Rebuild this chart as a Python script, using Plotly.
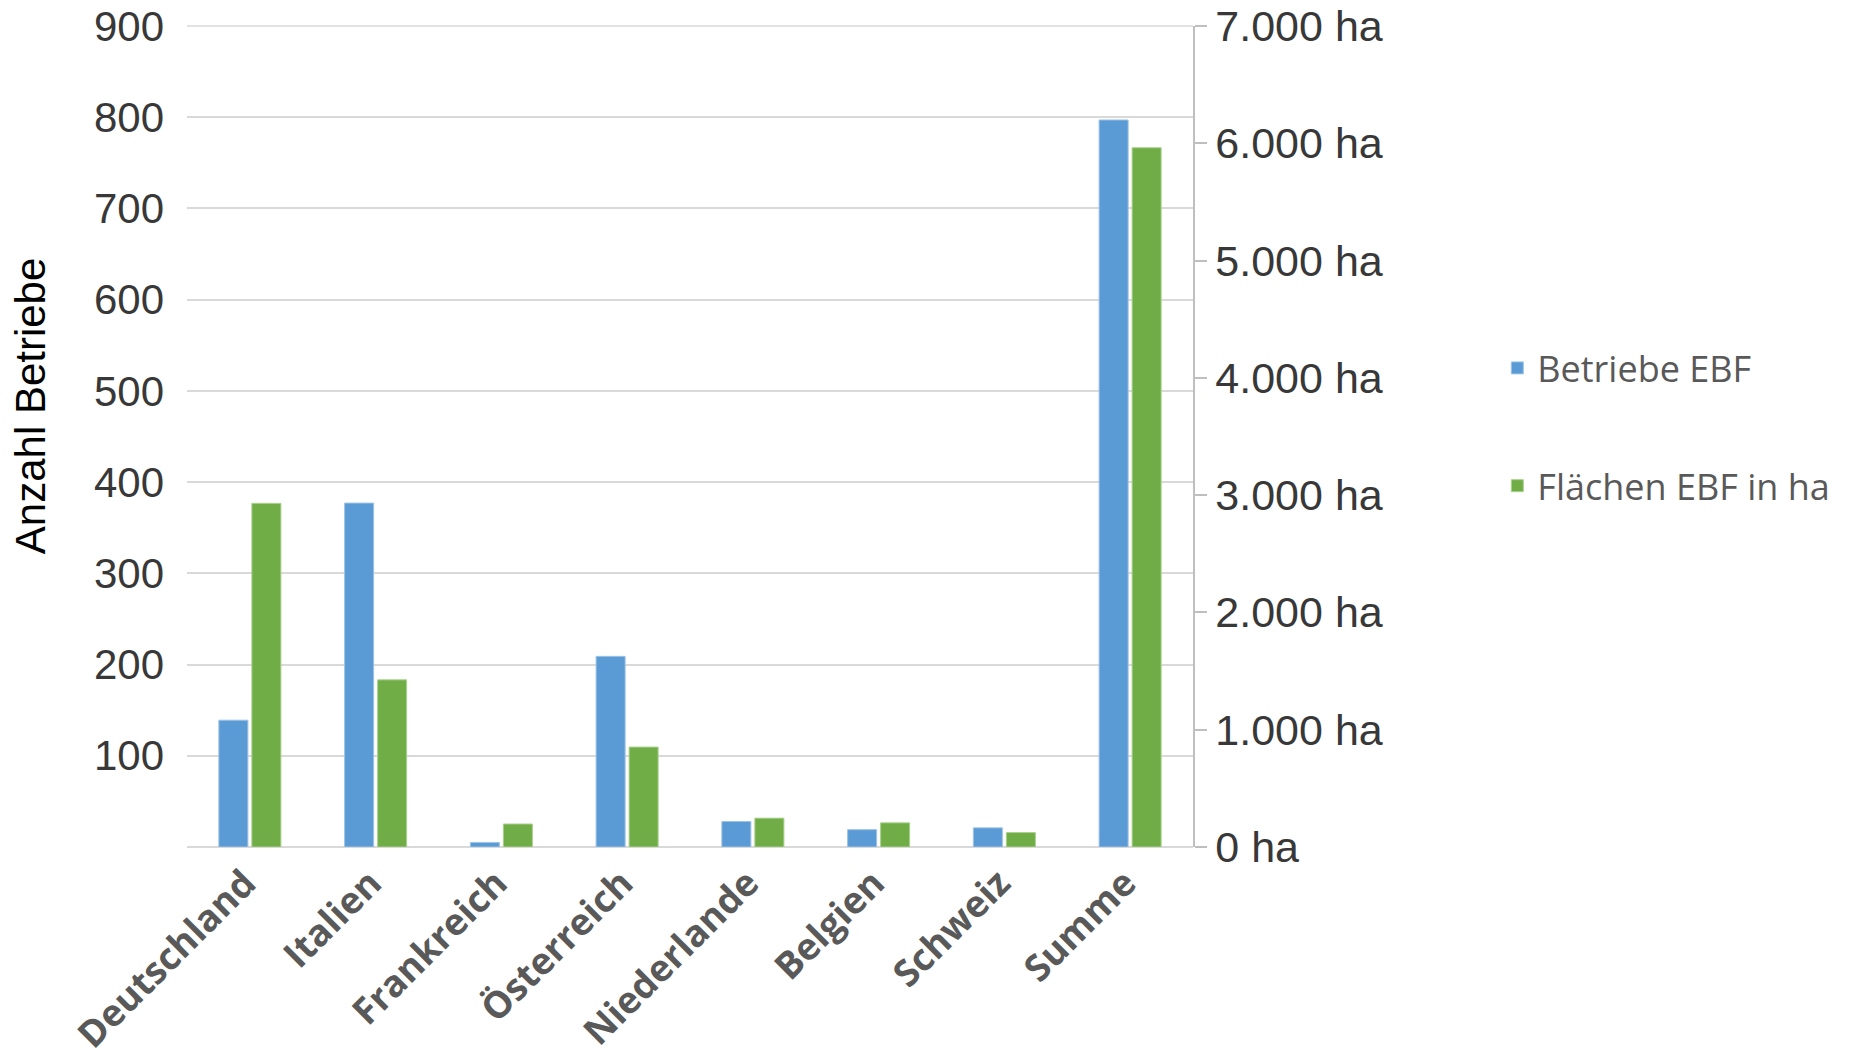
import plotly.graph_objects as go

categories = ["Deutschland", "Italien", "Frankreich", "Österreich", "Niederlande", "Belgien", "Schweiz", "Summe"]
betriebe = [139, 377, 5, 209, 28, 19, 21, 797]
flaechen_ha = [2930, 1425, 196, 852, 246, 206, 123, 5962]

left_ticks = [100, 200, 300, 400, 500, 600, 700, 800, 900]
right_ticks = [0, 1000, 2000, 3000, 4000, 5000, 6000, 7000]
right_ticktext = ["0 ha", "1.000 ha", "2.000 ha", "3.000 ha", "4.000 ha", "5.000 ha", "6.000 ha", "7.000 ha"]

BLUE = "#5B9BD5"
GREEN = "#70AD47"
TICK_COLOR = "#383838"
LABEL_COLOR = "#595959"
GRID = "#D9D9D9"

fig = go.Figure()
fig.add_trace(go.Bar(
    x=categories, y=betriebe, name="Betriebe EBF",
    marker=dict(color=BLUE, line=dict(color="#9DC3E6", width=1)),
    offsetgroup="a", legendgroup="a", yaxis="y",
))
fig.add_trace(go.Bar(
    x=categories, y=flaechen_ha, name="Flächen EBF in ha",
    marker=dict(color=GREEN, line=dict(color="#A9D18E", width=1)),
    offsetgroup="b", legendgroup="b", yaxis="y2",
))

# top gridline (at the upper edge of the plot area)
fig.add_shape(type="line", xref="paper", yref="paper", x0=0, x1=1, y0=1, y1=1,
              line=dict(color=GRID, width=1.5), layer="below")

fig.add_annotation(
    text="Anzahl Betriebe", textangle=-90,
    xref="paper", yref="paper", x=-0.156, y=0.537,
    xanchor="center", yanchor="middle", showarrow=False,
    font=dict(family="Liberation Sans", size=42, color="black"),
)

fig.update_layout(
    width=1855, height=1064,
    margin=dict(l=187, r=662, t=26, b=217, autoexpand=False),
    paper_bgcolor="white", plot_bgcolor="white",
    barmode="group", bargap=0.475, bargroupgap=0.12,
    showlegend=True,
    legend=dict(
        x=1.3025, y=0.62, xanchor="left", yanchor="top",
        font=dict(family="Open Sans", size=36, color=LABEL_COLOR),
        tracegroupgap=68, bgcolor="rgba(0,0,0,0)",
    ),
    xaxis=dict(
        tickangle=-45, automargin=False,
        tickfont=dict(family="Open Sans", size=37, color=LABEL_COLOR, weight="bold"),
        showgrid=False, showline=False, ticks="",
        ticklabelstandoff=6, ticklabelshift=-5,
    ),
    yaxis=dict(
        range=[0, 900], tickvals=left_ticks, automargin=False,
        tickfont=dict(family="Liberation Sans", size=42, color=TICK_COLOR),
        showgrid=True, gridcolor=GRID, gridwidth=1.5,
        zeroline=True, zerolinecolor=GRID, zerolinewidth=1.5,
        showline=False, ticks="", ticklabelstandoff=22,
    ),
    yaxis2=dict(
        range=[0, 7000], tickvals=right_ticks, ticktext=right_ticktext,
        overlaying="y", side="right", automargin=False,
        tickfont=dict(family="Liberation Sans", size=43, color=TICK_COLOR),
        showgrid=False, zeroline=False,
        showline=True, linecolor="#BFBFBF", linewidth=1.5,
        ticks="outside", ticklen=12, tickcolor="#BFBFBF", tickwidth=1.5,
    ),
)

fig.write_html("out.html")
